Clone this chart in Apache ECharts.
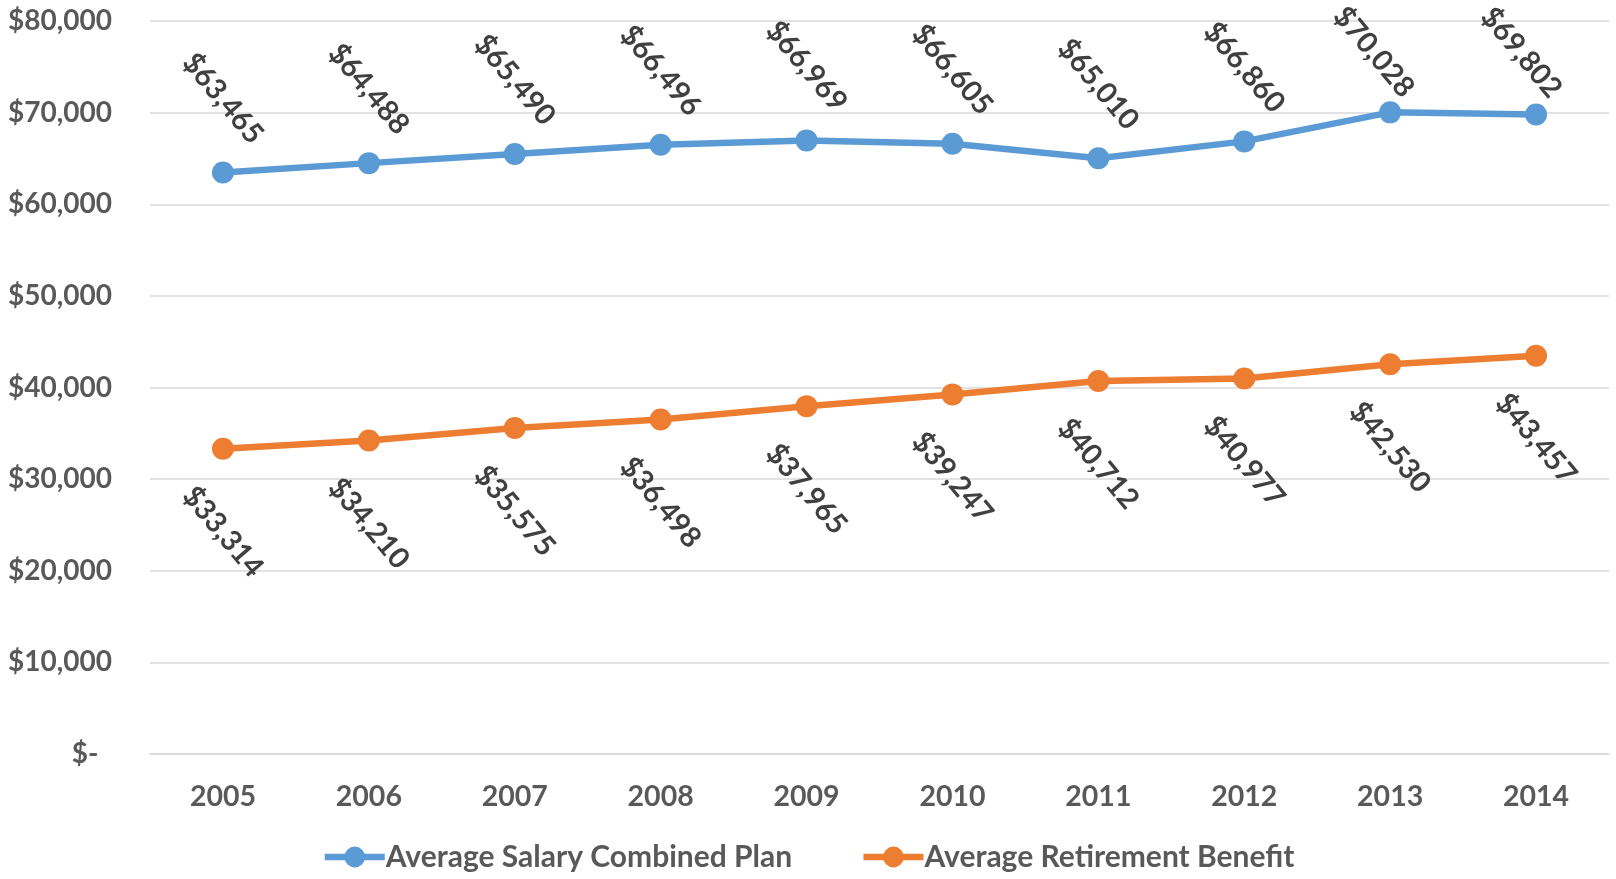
<!DOCTYPE html>
<html>
<head>
<meta charset="utf-8">
<script src="https://cdn.jsdelivr.net/npm/echarts@6/dist/echarts.min.js"></script>
<style>
  html, body { margin: 0; padding: 0; background: #fff; }
  #chart { width: 1616px; height: 879px; }
</style>
</head>
<body>
<div id="chart"></div>
<script>
// Years on the category axis
const years = ['2005', '2006', '2007', '2008', '2009', '2010', '2011', '2012', '2013', '2014'];
// Average salary, combined plan (USD)
const salary = [63465, 64488, 65490, 66496, 66969, 66605, 65010, 66860, 70028, 69802];
// Average retirement benefit (USD)
const benefit = [33314, 34210, 35575, 36498, 37965, 39247, 40712, 40977, 42530, 43457];
// Series names
const seriesNames = ['Average Salary Combined Plan', 'Average Retirement Benefit'];
// Y-axis range
const yMin = 0, yMax = 80000, yStep = 10000;

const fmtMoney = v => v === 0 ? '$-  ' : '$' + v.toLocaleString('en-US');

const FONT = 'Lato';
const AXIS_COLOR = '#595959';
const LABEL_COLOR = '#404040';
const LABEL_TOP_LIMIT = 9;   // keep rotated labels inside the canvas

const chart = echarts.init(document.getElementById('chart'), null, { renderer: 'canvas' });

function lineSeries(name, data, color, above) {
  return {
    name: name,
    type: 'line',
    data: data,
    symbol: 'circle',
    symbolSize: 22,
    lineStyle: { width: 6.5, color: color },
    itemStyle: { color: color },
    label: {
      show: true,
      position: above ? 'top' : 'bottom',
      distance: above ? 63 : 72,
      rotate: -50,
      align: 'center',
      verticalAlign: 'middle',
      fontFamily: FONT,
      fontWeight: 'bold',
      fontSize: 29,
      color: LABEL_COLOR,
      formatter: p => fmtMoney(p.value)
    },
    labelLayout: p => (p.labelRect.y < LABEL_TOP_LIMIT ? { dy: LABEL_TOP_LIMIT - p.labelRect.y } : {}),
    emphasis: { disabled: true },
    animation: false
  };
}

chart.setOption({
  backgroundColor: '#ffffff',
  animation: false,
  grid: { left: 150, right: 7, top: 21, bottom: 125, containLabel: false },
  xAxis: {
    type: 'category',
    data: years,
    boundaryGap: true,
    axisLine: { show: true, lineStyle: { color: '#D9D9D9', width: 1.5 } },
    axisTick: { show: false },
    axisLabel: {
      margin: 28,
      fontFamily: FONT,
      fontWeight: 'bold',
      fontSize: 28.5,
      color: AXIS_COLOR
    }
  },
  yAxis: {
    type: 'value',
    min: yMin,
    max: yMax,
    interval: yStep,
    axisLine: { show: false },
    axisTick: { show: false },
    splitLine: { lineStyle: { color: '#D9D9D9', width: 1.5 } },
    axisLabel: {
      margin: 38,
      fontFamily: FONT,
      fontWeight: 'bold',
      fontSize: 28,
      color: AXIS_COLOR,
      formatter: v => fmtMoney(v)
    }
  },
  legend: {
    bottom: 2,
    left: 'center',
    itemWidth: 60,
    itemHeight: 26,
    itemGap: 68,
    lineStyle: { width: 6.5 },
    textStyle: {
      fontFamily: FONT,
      fontWeight: 'bold',
      fontSize: 30,
      color: AXIS_COLOR,
      padding: [0, 0, 0, -4]
    },
    data: seriesNames
  },
  series: [
    lineSeries(seriesNames[0], salary, '#5B9BD5', true),
    lineSeries(seriesNames[1], benefit, '#ED7D31', false)
  ]
});
</script>
</body>
</html>
